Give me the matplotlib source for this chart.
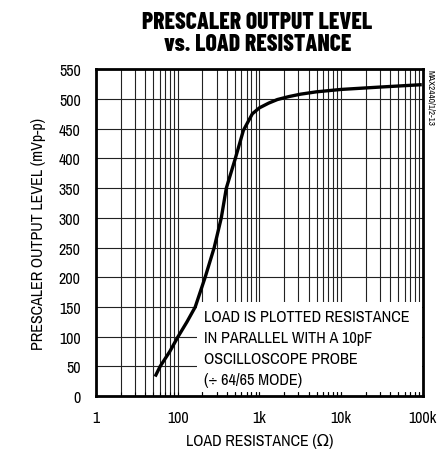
import matplotlib
matplotlib.use("Agg")
from matplotlib import pyplot as plt
from matplotlib.patches import Rectangle
from matplotlib.ticker import FixedLocator, NullFormatter

# load resistance (ohm) and prescaler output level (mVp-p)
load_ohm = [53, 61, 80, 101, 130, 164, 217, 280, 342, 394, 508, 637, 820,
            1000, 1300, 1660, 2300, 3180, 5000, 10000, 30000, 97000]
level_mv = [33, 50, 75, 100, 125, 150, 200, 250, 300, 350, 400, 447, 475,
            485, 493, 499, 504, 508, 512, 516, 520, 524]

x_ticks = [10, 100, 1000, 10000, 100000]
x_labels = ["1", "100", "1k", "10k", "100k"]
y_ticks = list(range(0, 551, 50))

note_lines = ["LOAD IS PLOTTED RESISTANCE", "IN PARALLEL WITH A 10pF",
              "OSCILLOSCOPE PROBE", "(\u00f7 64/65 MODE)"]

plt.rcParams["font.family"] = ["Archivo Narrow", "DejaVu Sans"]

fig = plt.figure(figsize=(4.4, 4.56), dpi=100)
ax = fig.add_axes([0.218, 0.129, 0.743, 0.717])

ax.plot(load_ohm, level_mv, color="black", lw=2.4, zorder=5,
        solid_capstyle="butt", solid_joinstyle="round")

ax.set_xscale("log")
ax.set_xlim(10, 100000)
ax.set_ylim(0, 550)
ax.set_xticks(x_ticks)
ax.set_xticklabels(x_labels)
minors = [m * 10 ** d for d in range(1, 5) for m in range(2, 10)]
ax.xaxis.set_minor_locator(FixedLocator(minors))
ax.xaxis.set_minor_formatter(NullFormatter())
ax.set_yticks(y_ticks)

ax.grid(True, which="both", color="#222222", lw=0.8)
ax.tick_params(which="both", direction="in", length=3, width=0.8,
               labelsize=11.5, pad=10)
ax.tick_params(axis="y", length=0, pad=11)
for s in ax.spines.values():
    s.set_linewidth(2.0)

ax.set_xlabel("LOAD RESISTANCE (\u03a9)", fontsize=11.5, labelpad=6)
ax.set_ylabel("PRESCALER OUTPUT LEVEL (mVp-p)", fontsize=11.5, labelpad=9)

# white note box covering the grid
ax.add_patch(Rectangle((0.309, 0.012), 0.688, 0.275, transform=ax.transAxes,
                       facecolor="white", edgecolor="none", zorder=3))
for i, line in enumerate(note_lines):
    ax.text(0.33, 0.245 - i * 0.065, line, transform=ax.transAxes,
            fontsize=11.7, va="center", ha="left", zorder=4)

fig.text(0.585, 0.974, "PRESCALER OUTPUT LEVEL\nvs. LOAD RESISTANCE",
         ha="center", va="top", fontsize=17, fontweight=800,
         family="Barlow Condensed", linespacing=1.0)

fig.text(0.978, 0.846, "MAX2440/1/2-13", rotation=-90, ha="center", va="top",
         fontsize=6.5)

fig.savefig("out.png", dpi=100)
